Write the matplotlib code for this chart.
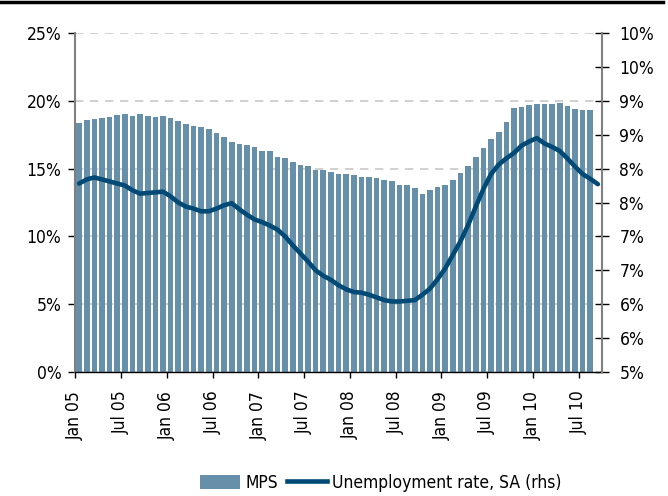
import numpy as np
import matplotlib
matplotlib.use("Agg")
import matplotlib.pyplot as plt
from matplotlib import font_manager as fm
from matplotlib.lines import Line2D
from matplotlib.patches import Patch

# ---------------- data ----------------
mps = [18.36, 18.58, 18.66, 18.75, 18.81, 18.95, 19.03, 18.88, 19.03, 18.88,
       18.81, 18.88, 18.73, 18.51, 18.29, 18.14, 18.07, 17.92, 17.63, 17.33,
       16.96, 16.81, 16.74, 16.59, 16.30, 16.30, 15.86, 15.78, 15.49, 15.27,
       15.19, 14.90, 14.90, 14.75, 14.60, 14.60, 14.53, 14.38, 14.38, 14.31,
       14.16, 14.09, 13.79, 13.79, 13.57, 13.13, 13.42, 13.64, 13.79, 14.16,
       14.68, 15.19, 15.86, 16.52, 17.18, 17.70, 18.44, 19.47, 19.54, 19.69,
       19.76, 19.76, 19.76, 19.84, 19.62, 19.40, 19.32, 19.32]

unemp = [7.78, 7.84, 7.87, 7.84, 7.81, 7.78, 7.75, 7.68, 7.63, 7.64,
         7.65, 7.66, 7.59, 7.50, 7.44, 7.41, 7.37, 7.37, 7.41, 7.46,
         7.49, 7.40, 7.32, 7.25, 7.21, 7.16, 7.10, 7.00, 6.87, 6.75,
         6.63, 6.50, 6.42, 6.36, 6.28, 6.22, 6.18, 6.17, 6.14, 6.10,
         6.06, 6.04, 6.04, 6.05, 6.06, 6.14, 6.23, 6.37, 6.53, 6.73,
         6.93, 7.17, 7.44, 7.70, 7.92, 8.06, 8.15, 8.23, 8.34, 8.40,
         8.45, 8.37, 8.32, 8.26, 8.15, 8.03, 7.92, 7.85, 7.77]

x_labels = ['Jan 05', 'Jul 05', 'Jan 06', 'Jul 06', 'Jan 07', 'Jul 07',
            'Jan 08', 'Jul 08', 'Jan 09', 'Jul 09', 'Jan 10', 'Jul 10']
lhs_ticks = [0, 5, 10, 15, 20, 25]
lhs_labels = ['0%', '5%', '10%', '15%', '20%', '25%']
rhs_ticks = [5, 5.5, 6, 6.5, 7, 7.5, 8, 8.5, 9, 9.5, 10]
rhs_labels = ['5%', '6%', '6%', '7%', '7%', '8%', '8%', '9%', '9%', '10%', '10%']
series_names = ['MPS', 'Unemployment rate, SA (rhs)']

# ---------------- font ----------------
avail = {(f.name, f.stretch) for f in fm.fontManager.ttflist}
names = {n for n, _ in avail}
if 'Liberation Sans Narrow' in names:
    FAM, STRETCH, FS = 'Liberation Sans Narrow', 'normal', 13.5
elif 'DejaVu Sans Condensed' in names:
    FAM, STRETCH, FS = 'DejaVu Sans Condensed', 'condensed', 12.5
elif ('DejaVu Sans', 'condensed') in avail:
    FAM, STRETCH, FS = 'DejaVu Sans', 'condensed', 12.5
else:
    FAM, STRETCH, FS = 'DejaVu Sans', 'normal', 11.5
plt.rcParams['font.family'] = [FAM, 'DejaVu Sans']
plt.rcParams['font.stretch'] = STRETCH

BAR_C = '#6690aa'
LINE_C = '#004a75'

fig = plt.figure(figsize=(6.68, 4.96), dpi=100)
ax = fig.add_axes([75.3 / 668, 1 - 372 / 496, (601.7 - 75.3) / 668, (372 - 33) / 496])

n_months = len(unemp)
xb = np.arange(len(mps)) + 0.5
xl = np.arange(n_months) + 0.5

ax.bar(xb, mps, width=0.74, color=BAR_C, zorder=2)
ax.set_xlim(0, n_months)
ax.set_ylim(0, 25)
ax.set_yticks(lhs_ticks)
ax.set_yticklabels(lhs_labels, fontsize=FS)
ax.set_xticks(np.arange(len(x_labels)) * 6)
ax.set_xticklabels(x_labels, rotation=90, fontsize=FS)
ax.set_axisbelow(True)
ax.yaxis.grid(True, color='#c8c8c8', linestyle=(0, (5, 4)), linewidth=1.2)

ax.tick_params(axis='y', direction='out', length=5, width=1, pad=5, colors='black')
ax.tick_params(axis='x', direction='out', length=4.5, width=1, pad=9)
for s in ['top', 'right']:
    ax.spines[s].set_visible(False)
ax.spines['left'].set_color('#808080')
ax.spines['left'].set_linewidth(1.5)
ax.spines['bottom'].set_color('black')
ax.spines['bottom'].set_linewidth(1.0)

ax2 = ax.twinx()
ax2.plot(xl, unemp, color=LINE_C, linewidth=3.3, solid_capstyle='round', zorder=3)
ax2.set_ylim(5, 10)
ax2.set_yticks(rhs_ticks)
ax2.set_yticklabels(rhs_labels, fontsize=FS)
ax2.tick_params(axis='y', direction='inout', length=9.5, width=1, pad=8, colors='black')
for s in ['top', 'left', 'bottom']:
    ax2.spines[s].set_visible(False)
ax2.spines['right'].set_color('#808080')
ax2.spines['right'].set_linewidth(1.5)

handles = [Patch(facecolor=BAR_C, edgecolor='none'),
           Line2D([], [], color=LINE_C, linewidth=3.3)]
fig.legend(handles, series_names, loc='center', bbox_to_anchor=(0.57, 0.027),
           ncol=2, frameon=False, fontsize=FS, handlelength=2.3,
           handleheight=0.85, columnspacing=0.5, handletextpad=0.3)

fig.add_artist(Line2D([0, 0.9925], [0.995, 0.995], color='black', linewidth=2.5,
                      transform=fig.transFigure))

fig.savefig('out.png', dpi=100)
